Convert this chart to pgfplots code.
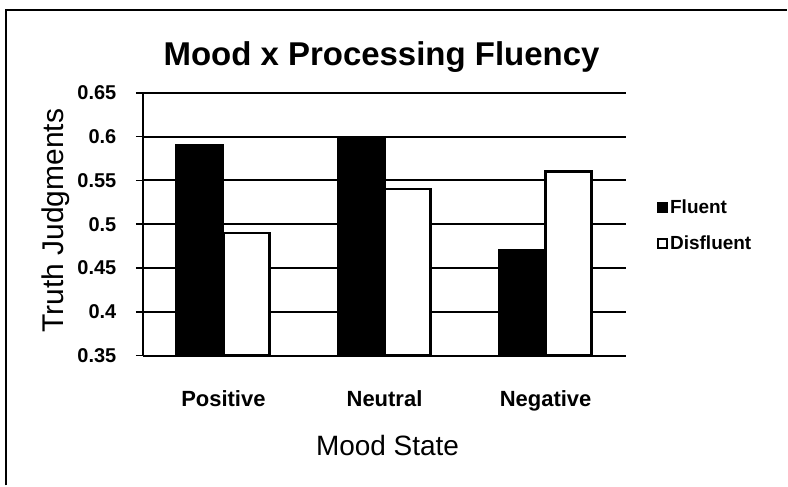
\documentclass[border=0pt]{standalone}
\usepackage{pgfplots}
\pgfplotsset{compat=1.18}
\usepackage{fontspec}
\setmainfont{Liberation Sans}
\begin{document}
\begin{tikzpicture}[x=1pt,y=1pt]
\path (0,0) rectangle (788,486);
\draw[line width=2pt] (6,0) -- (6,476) -- (788,476);
\begin{axis}[
  at={(143pt,130pt)}, anchor=south west,
  scale only axis, width=484pt, height=263pt,
  xmin=-0.5, xmax=2.5, ymin=0.35, ymax=0.65,
  xtick={0,1,2}, xticklabels={Positive,Neutral,Negative},
  ytick={0.35,0.4,0.45,0.5,0.55,0.6,0.65},
  yticklabels={0.35,0.4,0.45,0.5,0.55,0.6,0.65},
  axis x line*=bottom, axis y line*=left,
  axis line style={line width=2pt},
  x axis line style={-}, y axis line style={-},
  major x tick style={draw=none},
  ytick style={line width=1.5pt, black},
  tick align=outside, major tick length=7pt,
  ymajorgrids, grid style={black, line width=2pt},
  yticklabel style={font=\fontsize{20}{22}\selectfont\bfseries, xshift=-16pt},
  xticklabel style={font=\fontsize{22}{24}\selectfont\bfseries, yshift=-25pt},
  /pgf/number format/assume math mode=true,
  legend style={at={(rel axis cs:1.064,0.61)}, anchor=north west, draw=none, fill=none,
    font=\fontsize{19}{21}\selectfont\bfseries, row sep=17pt, inner xsep=0pt,
    /tikz/every even column/.append style={column sep=1pt}},
  legend cell align=left,
  legend image code/.code={\draw[#1,line width=1.8pt] (0pt,-4.5pt) rectangle (9pt,4.5pt);},
]
\addplot[ybar, bar width=47pt, bar shift=-23.5pt, fill=black, draw=black, line width=2pt]
  coordinates {(0,0.59) (1,0.60) (2,0.47)};
\addlegendentry{Fluent}
\addplot[ybar, bar width=46pt, bar shift=23pt, fill=white, draw=black, line width=2.5pt]
  coordinates {(0,0.49) (1,0.54) (2,0.56)};
\addlegendentry{Disfluent}
\end{axis}
\node[font=\fontsize{33}{38}\selectfont\bfseries] at (382,429) {Mood x Processing Fluency};
\node[font=\fontsize{28}{32}\selectfont] at (388,40) {Mood State};
\node[font=\fontsize{30}{34}\selectfont, rotate=90] at (56,265) {Truth Judgments};
\end{tikzpicture}
\end{document}
